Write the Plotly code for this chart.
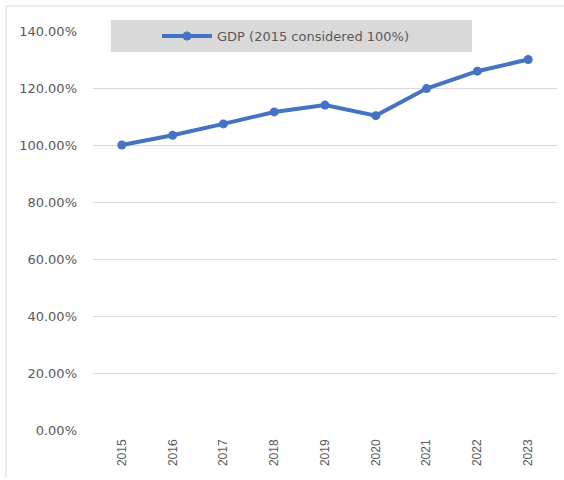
import plotly.graph_objects as go

years = ["2015", "2016", "2017", "2018", "2019", "2020", "2021", "2022", "2023"]
gdp_index = [1.00, 1.034, 1.074, 1.116, 1.140, 1.103, 1.198, 1.259, 1.300]
series_name = "GDP (2015 considered 100%)"
y_ticks = [0, 0.2, 0.4, 0.6, 0.8, 1.0, 1.2, 1.4]

W, H = 564, 480
L, R, T, B = 93, 7, 31, 50
pw, ph = W - L - R, H - T - B

def px(x):
    return (x - L) / pw

def py(y):
    return (H - B - y) / ph

fig = go.Figure()
fig.add_trace(go.Scatter(
    x=years, y=gdp_index, mode="lines+markers", name=series_name,
    line=dict(color="#4472C4", width=4),
    marker=dict(color="#4472C4", size=9),
    showlegend=True,
))

fig.update_layout(
    width=W, height=H,
    margin=dict(l=L, r=R, t=T, b=B),
    paper_bgcolor="white", plot_bgcolor="white",
    font=dict(family="DejaVu Sans", color="#595959", size=13),
    legend=dict(
        x=px(157), y=py(36), xanchor="left", yanchor="middle",
        bgcolor="rgba(0,0,0,0)", borderwidth=0, orientation="h",
        font=dict(family="DejaVu Sans", size=13, color="#595959"),
        itemwidth=50,
    ),
    xaxis=dict(
        type="category", showgrid=False, showline=False, ticks="",
        tickangle=-90, tickfont=dict(family="Liberation Sans", size=12, color="#595959"),
        ticklabelstandoff=6,
    ),
    yaxis=dict(
        range=[0, 1.4], tickvals=y_ticks, tickformat=".2%",
        showgrid=True, gridcolor="#d9d9d9", gridwidth=1,
        zeroline=False, showline=False, ticks="",
        tickfont=dict(family="DejaVu Sans", size=13, color="#595959"),
        ticklabelstandoff=15,
    ),
    shapes=[
        dict(type="rect", xref="paper", yref="paper",
             x0=px(111), x1=px(472), y0=py(52), y1=py(20),
             fillcolor="#d9d9d9", line=dict(width=0), layer="above"),
        dict(type="line", xref="paper", yref="paper",
             x0=px(6), x1=px(6), y0=py(6), y1=py(478),
             line=dict(color="#d9d9d9", width=1)),
        dict(type="line", xref="paper", yref="paper",
             x0=px(6), x1=px(570), y0=py(6), y1=py(6),
             line=dict(color="#d9d9d9", width=1)),
    ],
)

fig.write_html("out.html")
